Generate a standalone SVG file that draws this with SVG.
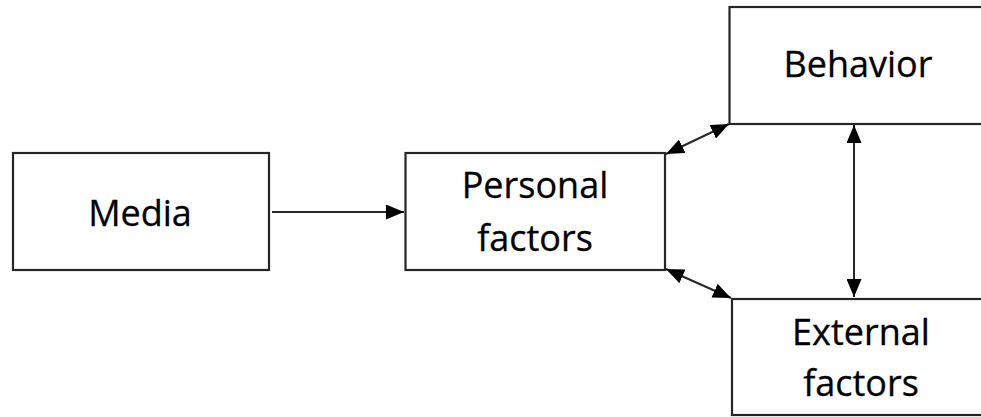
<svg xmlns="http://www.w3.org/2000/svg" width="981" height="417" viewBox="0 0 981 417">
  <style>
    .box { fill: #ffffff; stroke: #262626; stroke-width: 2.2; }
    .label { font-family: "Open Sans", "Liberation Sans", sans-serif; font-size: 36px; fill: #000000; stroke: #000000; stroke-width: 0.3; text-anchor: middle; }
    .link { stroke: #262626; stroke-width: 2; fill: none; }
  </style>
  <defs>
    <marker id="head" viewBox="0 0 18 15" refX="18" refY="7.5" markerWidth="18" markerHeight="15" markerUnits="userSpaceOnUse" orient="auto-start-reverse">
      <path d="M0,0 L18,7.5 L0,15 Z" fill="#000000"/>
    </marker>
  </defs>
  <rect width="981" height="417" fill="#ffffff"/>

  <g id="media">
    <rect class="box" x="13" y="153" width="256" height="117"/>
    <text class="label" x="140" y="226">Media</text>
  </g>

  <g id="personal-factors">
    <rect class="box" x="405.5" y="153" width="259.5" height="117"/>
    <text class="label" x="535" y="198">Personal</text>
    <text class="label" x="535" y="251">factors</text>
  </g>

  <g id="behavior">
    <rect class="box" x="729.5" y="7" width="270" height="117"/>
    <text class="label" x="858" y="77">Behavior</text>
  </g>

  <g id="external-factors">
    <rect class="box" x="732" y="299" width="270" height="116"/>
    <text class="label" x="861" y="345">External</text>
    <text class="label" x="861" y="396">factors</text>
  </g>

  <g id="connectors">
    <line class="link" x1="272" y1="212" x2="404" y2="212" marker-end="url(#head)"/>
    <line class="link" x1="666" y1="154" x2="729" y2="124" marker-start="url(#head)" marker-end="url(#head)"/>
    <line class="link" x1="666" y1="269" x2="731" y2="298" marker-start="url(#head)" marker-end="url(#head)"/>
    <line class="link" x1="854" y1="125" x2="854" y2="297" marker-start="url(#head)" marker-end="url(#head)"/>
  </g>
</svg>
